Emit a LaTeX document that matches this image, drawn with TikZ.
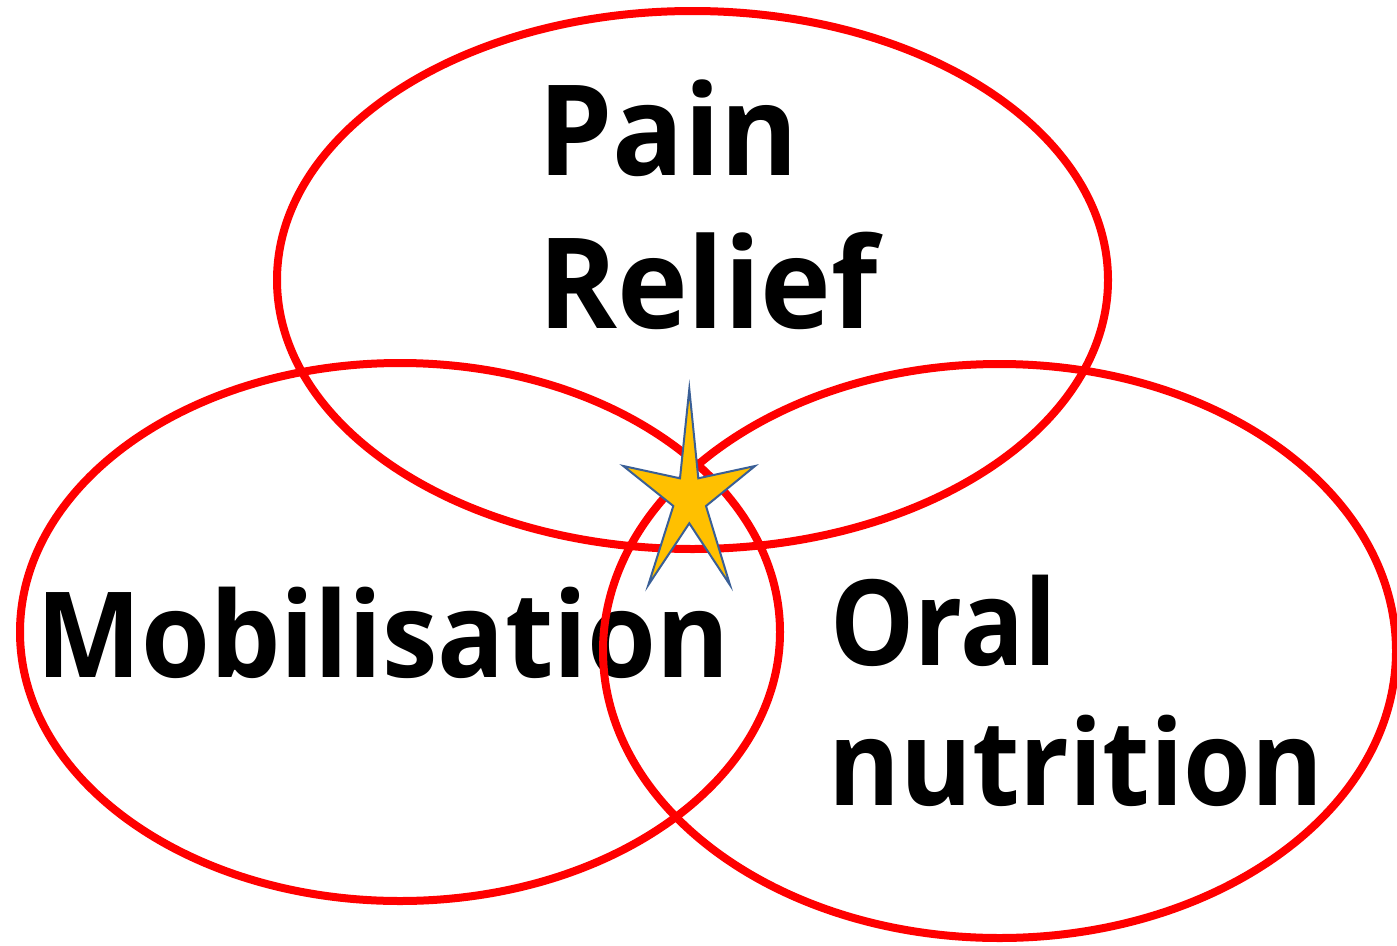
\documentclass[tikz,border=0pt]{standalone}
\usepackage{fontspec}
\setmainfont{Open Sans}
\definecolor{ringred}{HTML}{FF0000}
\definecolor{stargold}{HTML}{FFC000}
\definecolor{starblue}{HTML}{3A5F96}
\begin{document}
\begin{tikzpicture}[x=1pt,y=-1pt,
  ring/.style={draw=ringred,line width=8pt},
  bigword/.style={inner sep=0pt,anchor=base west,font=\fontsize{126}{150}\selectfont\bfseries},
  midword/.style={inner sep=0pt,anchor=base west,font=\fontsize{119}{150}\selectfont\bfseries}]
\useasboundingbox (0,0) rectangle (1397,945);
% labels
\node[bigword] (pain) at (538,175) {\scalebox{0.94}[1]{Pain}};
\node[bigword] (relief) at (538,328) {\scalebox{0.95}[1]{Relief}};
\node[midword] (mob) at (36,677) {\scalebox{0.936}[1]{Mobilisation}};
\node[midword] (oral) at (830,665) {\scalebox{0.89}[1]{Oral}};
\node[midword] (nutr) at (828,805) {\scalebox{0.92}[1]{nutrition}};
% circles
\draw[ring] (692.5,280) ellipse [x radius=415.5, y radius=269];
\draw[ring] (400,632) ellipse [x radius=380, y radius=269];
\draw[ring] (999.5,651) ellipse [x radius=396.5, y radius=287];
% star
\draw[fill=stargold,draw=starblue,line width=2pt,line join=miter]
  (689.3,389) -- (698.3,478.3) -- (755,466) -- (706,506) -- (730,585)
  -- (689.3,523.3) -- (648.3,585) -- (673.3,506) -- (623.3,466)
  -- (680,478.3) -- cycle;
\end{tikzpicture}
\end{document}
